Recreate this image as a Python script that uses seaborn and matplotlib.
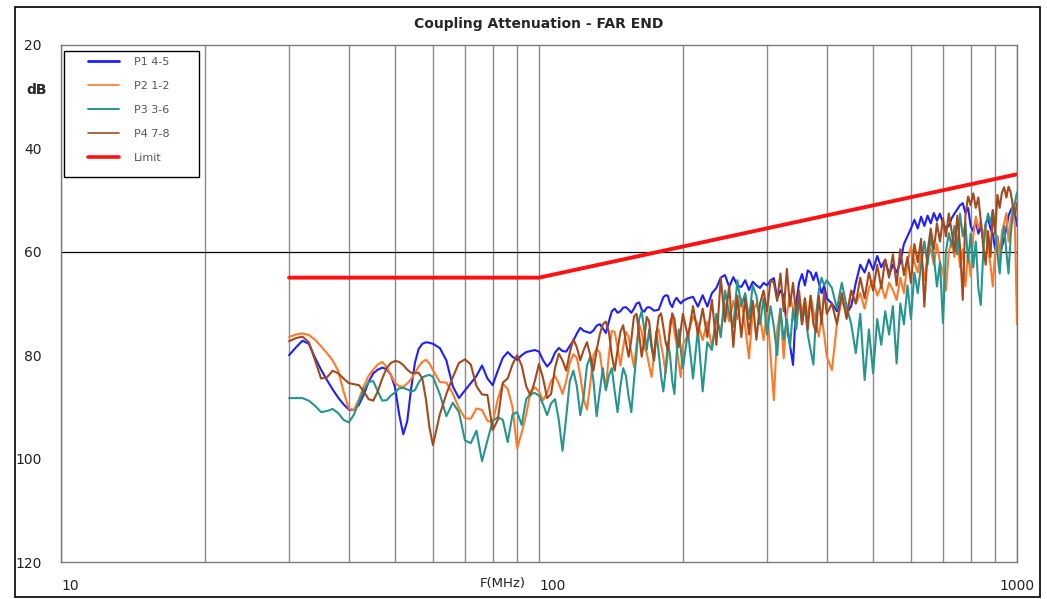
import matplotlib
matplotlib.use("Agg")
import numpy as np
import pandas as pd
import seaborn as sns
import matplotlib.pyplot as plt
import matplotlib.transforms as mtransforms
from matplotlib.lines import Line2D
from matplotlib.patches import Rectangle
from matplotlib.ticker import LogLocator, NullFormatter

# ---------------- data ----------------
FREQ = [30, 31, 32, 33, 34, 35, 36, 37, 38, 39, 40, 41, 42, 43, 44, 45, 46, 47, 48, 49,
        50, 51, 52, 53, 54, 55, 56, 57, 58, 59, 60,
        62, 64, 66, 68, 70, 72, 74, 76, 78, 80, 82, 84, 86, 88, 90, 92, 94, 96, 98, 100,
        102, 104, 106, 108, 110, 112, 114, 116, 118, 120, 122, 124, 126, 128, 130, 132,
        134, 136, 138, 140, 142, 144, 146, 148, 150, 152, 154, 156, 158, 160, 162, 164,
        166, 168, 170, 172, 174, 176, 178, 180, 182, 184, 186, 188, 190, 192, 194, 196,
        198, 200,
        205, 210, 215, 220, 225, 230, 235, 240, 245, 250, 255, 260, 265, 270, 275, 280,
        285, 290, 295, 300, 305, 310, 315, 320, 325, 330, 335, 340, 345, 350, 355, 360,
        365, 370, 375, 380, 385, 390, 395, 400,
        410, 420, 430, 440, 450, 460, 470, 480, 490, 500, 510, 520, 530, 540, 550, 560,
        570, 580, 590, 600, 610, 620, 630, 640, 650, 660, 670, 680, 690, 700, 710, 720,
        730, 740, 750, 760, 770, 780, 790, 800, 810, 820, 830, 840, 850, 860, 870, 880,
        890, 900, 910, 920, 930, 940, 950, 960, 970, 980, 990, 1000]

P1 = [80.0, 78.5, 77.2, 77.8, 80.5, 82.8, 84.8, 86.6, 88.2, 89.5, 90.5, 90.6, 89.6, 87.6, 85.2,
      83.5, 82.8, 82.4, 82.7, 83.8, 86.3, 91.5, 95.3, 92.8, 86.5, 81.5, 78.8, 77.8, 77.5, 77.6, 77.8,
      78.6, 81.0, 86.0, 88.3, 86.8, 85.4, 84.0, 82.0, 84.5, 85.8, 83.0, 80.5, 79.4, 80.3, 80.9,
      80.0, 79.4, 79.2, 79.0, 79.3,
      81.0, 82.2, 81.3, 79.5, 78.6, 79.2, 79.3, 78.2, 77.2, 75.8, 74.7, 75.3, 75.5, 75.7, 75.2,
      74.3, 74.0, 74.8, 75.7, 73.5, 71.5, 71.0, 71.8, 71.5, 70.8, 70.7, 71.2, 71.8, 71.0, 70.0,
      69.8, 71.2, 71.6, 70.8, 70.7, 71.0, 71.4, 71.3, 71.2, 70.0, 68.8, 68.4, 68.5, 70.0, 70.7,
      69.5, 68.9, 69.5, 70.0, 69.5,
      69.0, 68.7, 70.6, 68.4, 70.6, 68.0, 67.0, 65.0, 64.5, 66.8, 64.9, 66.5, 66.8, 65.5, 67.4,
      65.8, 66.5, 67.0, 66.0, 66.5, 65.5, 65.1, 69.0, 67.5, 68.5, 74.5, 78.0, 81.9, 70.0, 66.0,
      64.3, 66.5, 63.6, 64.0, 65.5, 64.0, 66.0, 68.0, 66.5, 69.0,
      70.0, 71.5, 69.0, 72.0, 70.5, 66.0, 62.5, 64.0, 61.5, 63.5, 60.8, 63.0, 61.5, 64.5, 62.5,
      64.0, 62.0, 58.5, 57.0, 55.5, 53.8, 55.5, 53.2, 55.0, 53.0, 54.5, 52.5, 54.0, 52.6, 54.5,
      55.5, 55.0, 53.5, 52.6, 51.8, 51.0, 50.6, 52.5, 51.5, 55.0, 56.0, 54.0, 56.5, 55.0, 57.7,
      54.5, 53.5, 55.5, 56.5, 59.5, 57.0, 60.5, 59.0, 57.5, 55.5, 53.0, 52.0, 51.3, 52.5, 55.0]

P2 = [76.5, 76.0, 75.8, 76.1, 77.0, 78.3, 79.6, 81.0, 83.0, 87.0, 90.3, 90.6, 88.5, 86.0, 84.0,
      82.8, 81.8, 81.3, 82.3, 83.8, 85.4, 86.0, 86.1, 85.5, 84.6, 83.5, 82.2, 81.3, 80.9, 81.6, 82.9,
      85.2, 85.3, 87.4, 90.2, 92.2, 92.3, 90.3, 90.6, 92.7, 93.0, 88.5, 85.5, 86.5, 90.0, 98.0,
      95.0, 91.5, 87.0, 86.2, 87.0,
      88.7, 87.3, 85.0, 84.0, 85.5, 87.5, 85.0, 81.5, 79.8, 80.5, 84.0, 88.5, 90.5, 85.5, 80.0,
      78.8, 79.5, 84.0, 86.3, 80.0, 75.3, 75.5, 78.5, 82.0, 78.5, 75.5, 76.5, 79.5, 82.3, 78.0,
      74.0, 75.5, 78.5, 79.5, 82.0, 84.2, 80.0, 75.5, 75.0, 78.0, 80.3, 83.5, 80.0, 73.5, 72.6,
      75.5, 78.0, 81.5, 84.2, 78.0,
      76.0, 72.5, 74.0, 77.1, 73.5, 78.5, 73.0, 75.5, 70.0, 73.5, 69.5, 73.0, 69.0, 74.5, 80.6,
      71.5, 70.0, 72.5, 77.1, 71.0, 80.0, 88.7, 75.0, 71.0, 80.6, 72.0, 68.5, 71.0, 75.0, 68.5,
      72.0, 69.0, 73.0, 68.5, 71.5, 74.0, 76.4, 72.5, 76.0, 80.3,
      82.9, 74.0, 69.0, 72.0, 67.5, 70.0, 68.0, 71.0, 67.0, 65.5, 68.5, 66.5, 69.0, 66.0, 67.4,
      69.3, 65.0, 68.0, 62.0, 59.0, 62.0, 64.0, 60.5, 65.5, 61.0, 59.5, 62.5, 58.5, 62.0, 64.0,
      67.5, 60.0, 58.0, 61.0, 57.0, 63.0, 59.5, 66.7, 60.0, 64.8, 57.0, 53.2, 55.5, 54.0, 58.0,
      55.0, 59.5, 62.5, 66.7, 60.0, 57.0, 62.0, 56.0, 54.5, 52.5, 58.0, 54.0, 51.5, 55.0, 74.0]

P3 = [88.3, 88.3, 88.3, 88.8, 89.8, 91.0, 90.8, 90.4, 91.2, 92.5, 93.0, 91.5, 89.0, 86.8, 85.2,
      85.0, 87.0, 88.8, 88.7, 87.8, 87.2, 86.4, 86.3, 86.6, 87.0, 86.8, 85.3, 84.3, 84.0, 83.8, 84.2,
      87.5, 91.8, 89.2, 91.0, 96.5, 97.0, 94.6, 100.5, 96.5, 92.7, 92.0, 92.5, 96.8, 91.5, 91.0,
      93.5, 88.5, 87.5, 87.3, 87.8,
      89.5, 91.6, 89.3, 88.5, 92.5, 98.5, 92.0, 85.0, 83.0, 86.0, 91.6, 88.0, 82.0, 80.3, 85.0,
      91.8, 87.0, 82.5, 86.8, 84.0, 82.5, 87.0, 91.0, 86.0, 82.5, 84.0, 88.0, 91.0, 85.0, 79.5,
      73.0, 71.5, 75.0, 79.0, 75.0, 78.5, 81.0, 75.5, 79.5, 84.0, 87.0, 83.0, 77.5, 80.0, 85.0,
      87.5, 80.0, 75.0, 79.0, 82.5,
      75.5, 84.5, 75.0, 87.0, 77.5, 79.0, 72.0, 76.5, 67.5, 72.0, 74.5, 65.5, 70.5, 68.0, 73.0,
      66.5, 68.5, 74.0, 69.0, 76.0, 70.5, 74.5, 80.0, 71.0, 77.0, 73.0, 78.5, 71.0, 75.0, 69.0,
      74.0, 70.5, 76.0, 79.0, 81.8, 72.0, 67.5, 65.0, 66.5, 65.5,
      67.0, 71.0, 66.0, 70.5, 74.0, 79.6, 72.0, 84.8, 75.0, 83.5, 73.0, 78.0, 71.5, 76.0, 70.5,
      81.6, 70.0, 74.0, 66.5, 73.0, 64.0, 68.0, 62.5, 58.0, 62.5, 57.0, 61.0, 66.7, 62.0, 73.8,
      60.0, 56.4, 59.0, 55.0, 60.5, 52.6, 57.0, 54.5, 62.0, 56.5, 63.0, 58.0, 67.0, 70.3, 60.0,
      55.0, 52.6, 54.5, 51.9, 55.5, 60.5, 64.2, 58.0, 55.0, 60.0, 64.2, 57.0, 52.5, 50.5, 48.5]

P4 = [77.3, 76.7, 76.4, 77.5, 81.0, 84.5, 84.3, 83.0, 83.5, 84.5, 85.4, 85.6, 85.8, 87.0, 88.5,
      88.8, 87.0, 84.5, 82.5, 81.5, 81.1, 81.3, 81.9, 82.8, 83.4, 83.4, 83.4, 84.5, 88.5, 94.0, 97.4,
      91.5, 87.5, 84.3, 81.5, 80.8, 81.8, 86.0, 87.6, 87.7, 94.5, 92.5, 85.3, 84.5, 81.8, 80.0,
      82.0, 86.0, 87.8, 85.0, 81.7,
      84.5, 88.3, 87.5, 82.5, 79.7, 81.0, 83.0, 79.5, 76.9, 78.5, 81.0, 79.0, 77.5, 80.0, 83.0,
      79.0, 76.0, 74.0, 73.5, 75.5, 80.0, 83.0, 79.0, 75.5, 74.2, 77.5, 80.3, 77.0, 72.5, 72.0,
      76.0, 80.3, 77.0, 72.6, 73.5, 78.0, 81.0, 76.0, 72.5, 71.9, 74.5, 77.5, 79.0, 75.0, 71.9,
      73.0, 76.5, 78.4, 75.0, 72.0,
      76.5, 70.5, 76.0, 71.0, 76.5, 69.3, 78.0, 65.0, 73.5, 66.5, 78.4, 68.5, 76.5, 69.0, 76.0,
      69.5, 77.0, 70.0, 67.5, 71.5, 65.5, 66.0, 69.5, 64.2, 71.5, 63.3, 70.5, 66.0, 72.0, 67.5,
      74.0, 69.0, 75.0, 68.5, 74.0, 75.5, 68.5, 74.0, 67.5, 72.0,
      70.0, 74.0, 68.0, 73.0, 67.5, 70.0, 65.0, 69.0, 64.0, 67.5, 62.5, 67.0, 61.5, 65.0, 60.5,
      66.5, 59.5, 64.5, 61.0, 66.0, 58.5, 62.0, 57.5, 70.6, 60.0, 55.5, 59.5, 54.5, 58.0, 53.5,
      57.0, 52.6, 56.0, 60.0, 53.0, 59.0, 69.3, 53.0, 49.3, 51.0, 48.7, 51.5, 49.5, 54.0, 59.0,
      62.5, 56.0, 61.0, 52.0, 56.5, 49.0, 51.5, 48.5, 47.5, 49.5, 47.4, 48.5, 51.0, 53.0, 50.5]

LIMIT_F = [30, 100, 1000]
LIMIT_DB = [65, 65, 45]

SERIES = ["P1 4-5", "P2 1-2", "P3 3-6", "P4 7-8"]
COLORS = ["#1e1eff", "#ff7a28", "#25958f", "#a3491c"]
LIMIT_COLOR = "#ff1111"

YTICKS = [20, 40, 60, 80, 100, 120]
XTICKS = [10, 100, 1000]
XTICKLABELS = ["10", "100", "1000"]

# ---------------- plot ----------------
sns.set_style("white")
plt.rcParams["font.family"] = ["DejaVu Sans"]

W, H = 1047, 599
fig = plt.figure(figsize=(W / 100, H / 100), dpi=100)
ax = fig.add_axes([61 / W, 1 - 562 / H, 956 / W, 517 / H])

df = pd.concat(
    [pd.DataFrame({"f": FREQ, "dB": vals, "series": name})
     for name, vals in zip(SERIES, [P1, P2, P3, P4])],
    ignore_index=True)

sns.lineplot(data=df, x="f", y="dB", hue="series", hue_order=SERIES,
             palette=dict(zip(SERIES, COLORS)), estimator=None, sort=False,
             lw=1.5, legend=False, ax=ax)
sns.lineplot(x=LIMIT_F, y=LIMIT_DB, color=LIMIT_COLOR, lw=2.8,
             estimator=None, sort=False, ax=ax)

ax.set_xscale("log")
ax.set_xlim(10, 1000)
ax.set_ylim(120, 20)
ax.set_yticks(YTICKS)
ax.set_yticklabels([str(v) for v in YTICKS])
ax.set_xticks(XTICKS)
ax.set_xticklabels(XTICKLABELS)
ax.xaxis.set_minor_locator(LogLocator(base=10, subs=np.arange(2, 10)))
ax.xaxis.set_minor_formatter(NullFormatter())
ax.tick_params(which="both", length=0)
ax.tick_params(axis="y", pad=14, labelsize=10, labelcolor="#222222")
ax.tick_params(axis="x", pad=12, labelsize=10, labelcolor="#222222")
for lab, ha in zip(ax.get_xticklabels(), ["left", "left", "center"]):
    lab.set_ha(ha)
ax.grid(True, which="both", axis="x", color="#8a8a8a", lw=1.0)
ax.grid(False, axis="y")
ax.axhline(60, color="black", lw=0.9, zorder=1)
ax.set_axisbelow(True)
for sp in ax.spines.values():
    sp.set_color("#7a7a7a")
    sp.set_linewidth(1.0)
ax.set_xlabel("")
ax.set_ylabel("")

ax.set_title("Coupling Attenuation - FAR END", fontsize=10, fontweight="bold", pad=12)

bt = mtransforms.blended_transform_factory(ax.transAxes, ax.transData)
ax.text(-0.026, 28.7, "dB", transform=bt, ha="center", va="center",
        fontsize=10, fontweight="bold")
bx = mtransforms.blended_transform_factory(ax.transData, ax.transAxes)
ax.text(94, -0.041, "F(MHz)", transform=bx, ha="right", va="center",
        fontsize=9.5, color="#222222")

# legend box
ax.add_patch(Rectangle((3 / 956, 1 - 132 / 517), 135 / 956, 126 / 517,
                       transform=ax.transAxes, facecolor="white",
                       edgecolor="black", lw=1.0, zorder=5))
handles = [Line2D([], [], color=c, lw=w) for c, w in zip(COLORS + [LIMIT_COLOR],
                                                        [2.0, 1.2, 1.4, 1.2, 2.6])]
leg = ax.legend(handles, SERIES + ["Limit"], loc="upper left",
                bbox_to_anchor=(27 / 956, 1 - 12 / 517), frameon=False,
                borderpad=0, borderaxespad=0, labelspacing=1.25,
                handlelength=2.8, handletextpad=1.3, fontsize=8,
                labelcolor="#555555")
leg.set_zorder(6)

# outer frame
fig.patches.append(Rectangle((15 / W, 2 / H), (1040 - 15) / W, (592 - 2) / H,
                             transform=fig.transFigure, fill=False,
                             edgecolor="black", lw=1.2))

fig.savefig("out.png", dpi=100)
